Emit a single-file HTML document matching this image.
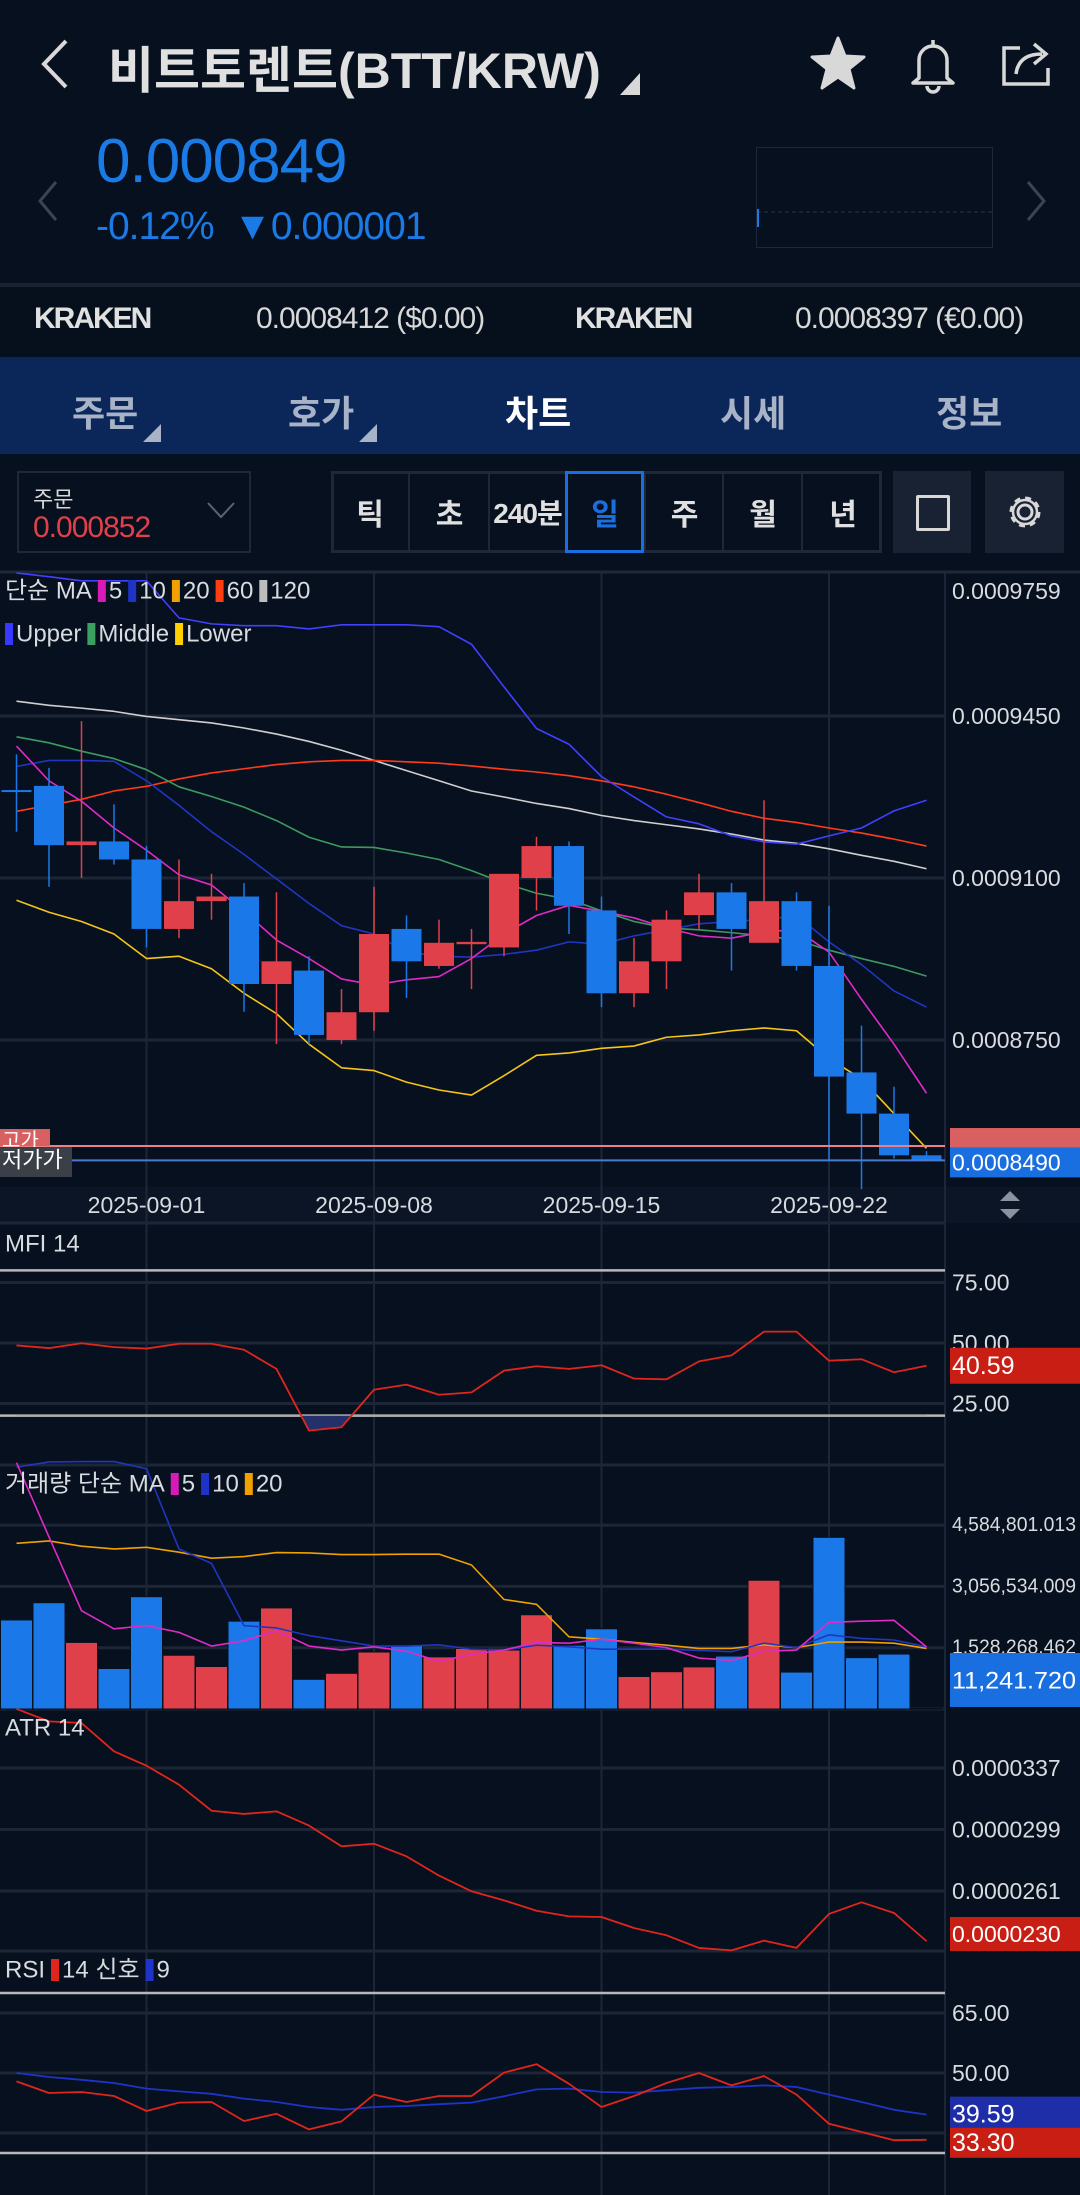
<!DOCTYPE html>
<html lang="ko"><head><meta charset="utf-8"><title>BTT/KRW chart</title>
<style>
*{margin:0;padding:0;box-sizing:border-box}
body{width:1080px;height:2195px;background:#07101e;font-family:"Liberation Sans","Noto Sans CJK KR",sans-serif;color:#d8dbe0;position:relative;overflow:hidden}
.a{position:absolute;white-space:nowrap}
</style></head><body>
<div class="a" style="left:0;top:0;width:1080px;height:284px;background:#07101e"></div>
<svg class="a" style="left:36px;top:38px" width="36" height="52"><polyline points="30,3 8,26 30,49" fill="none" stroke="#d8d8d8" stroke-width="4"/></svg>
<div class="a" style="left:108px;top:31px;font-size:50px;font-weight:bold;color:#e0e0e0;letter-spacing:0px">비트토렌트(BTT/KRW)</div>
<svg class="a" style="left:620px;top:73px" width="20" height="22"><polygon points="20,0 20,22 0,22" fill="#d8d8d8"/></svg>
<svg class="a" style="left:810px;top:36px" width="56" height="54"><polygon points="28,2 35,20 54,21 39,33 44,52 28,41 12,52 17,33 2,21 21,20" fill="#d8d8d8" stroke="#d8d8d8" stroke-width="3" stroke-linejoin="round"/></svg>
<svg class="a" style="left:905px;top:34px" width="56" height="60"><path d="M14 44 V26 a14 14 0 0 1 28 0 V44 l6 5 H8 Z M28 6 v6 M22 52 a6 6 0 0 0 12 0" fill="none" stroke="#d8d8d8" stroke-width="3.5" stroke-linejoin="round"/></svg>
<svg class="a" style="left:1000px;top:36px" width="56" height="56"><path d="M20 12 H4 V48 H48 V32" fill="none" stroke="#d8d8d8" stroke-width="3.5"/><path d="M16 38 C18 22 30 18 42 18 M34 8 L46 18 L34 28" fill="none" stroke="#d8d8d8" stroke-width="3.5"/></svg>
<div class="a" style="left:96px;top:126px;font-size:62px;color:#1a7ae6;letter-spacing:-1px">0.000849</div>
<div class="a" style="left:96px;top:205px;font-size:39px;color:#1a7ae6;letter-spacing:-1px">-0.12% &nbsp;▼0.000001</div>
<svg class="a" style="left:36px;top:180px" width="24" height="42"><polyline points="20,2 4,21 20,40" fill="none" stroke="#3b4454" stroke-width="3"/></svg>
<svg class="a" style="left:1024px;top:180px" width="24" height="42"><polyline points="4,2 20,21 4,40" fill="none" stroke="#3b4454" stroke-width="3"/></svg>
<svg class="a" style="left:756px;top:147px" width="237" height="101"><rect x="0.5" y="0.5" width="236" height="100" fill="none" stroke="#1e2838"/><line x1="1" y1="65" x2="236" y2="65" stroke="#2a3446" stroke-dasharray="4,3"/><line x1="2" y1="62" x2="2" y2="80" stroke="#1a7ae6" stroke-width="2"/></svg>
<div class="a" style="left:0;top:283px;width:1080px;height:4px;background:#1a2230"></div>
<div class="a" style="left:0;top:287px;width:1080px;height:70px;background:#06101d"></div>
<div class="a" style="left:34px;top:302px;font-size:30px;font-weight:bold;color:#e0e0e0;letter-spacing:-2px">KRAKEN</div>
<div class="a" style="left:256px;top:302px;font-size:30px;color:#d8d8d8;letter-spacing:-1px">0.0008412 ($0.00)</div>
<div class="a" style="left:575px;top:302px;font-size:30px;font-weight:bold;color:#e0e0e0;letter-spacing:-2px">KRAKEN</div>
<div class="a" style="left:795px;top:302px;font-size:30px;color:#d8d8d8;letter-spacing:-1px">0.0008397 (€0.00)</div>
<div class="a" style="left:0;top:357px;width:1080px;height:97px;background:#0b2659"></div>
<div class="a" style="left:72px;top:385px;font-size:36px;font-weight:bold;color:#a8b3c8">주문</div>
<div class="a" style="left:288px;top:385px;font-size:36px;font-weight:bold;color:#a8b3c8">호가</div>
<div class="a" style="left:505px;top:385px;font-size:36px;font-weight:bold;color:#ffffff">차트</div>
<div class="a" style="left:720px;top:385px;font-size:36px;font-weight:bold;color:#a8b3c8">시세</div>
<div class="a" style="left:936px;top:385px;font-size:36px;font-weight:bold;color:#a8b3c8">정보</div>
<svg class="a" style="left:143px;top:424px" width="18" height="18"><polygon points="18,0 18,18 0,18" fill="#a8b3c8"/></svg>
<svg class="a" style="left:359px;top:424px" width="18" height="18"><polygon points="18,0 18,18 0,18" fill="#a8b3c8"/></svg>
<div class="a" style="left:17px;top:471px;width:234px;height:82px;border:2px solid #1e2838"></div>
<div class="a" style="left:33px;top:482px;font-size:22px;color:#d8d8d8">주문</div>
<div class="a" style="left:33px;top:511px;font-size:30px;color:#e0404a;letter-spacing:-1px">0.000852</div>
<svg class="a" style="left:206px;top:500px" width="30" height="20"><polyline points="2,3 15,17 28,3" fill="none" stroke="#5a6474" stroke-width="2"/></svg>
<div class="a" style="left:331px;top:471px;width:551px;height:82px;border:3px solid #1e2838"></div>
<div id="intervals"></div>
<div class="a" style="left:893px;top:471px;width:78px;height:82px;background:#182232"></div>
<div class="a" style="left:916px;top:495px;width:34px;height:36px;border:3px solid #d8d8d8;border-radius:2px"></div>
<div class="a" style="left:985px;top:471px;width:79px;height:82px;background:#182232"></div>
<svg class="a" style="left:1005px;top:492px" width="40" height="40"><circle cx="20" cy="20" r="7" fill="none" stroke="#d8d8d8" stroke-width="3"/><circle cx="20" cy="20" r="14" fill="none" stroke="#d8d8d8" stroke-width="3" stroke-dasharray="6,5"/><circle cx="20" cy="20" r="12" fill="none" stroke="#d8d8d8" stroke-width="2.5"/></svg>

<svg id="chart" class="a" style="left:0;top:0" width="1080" height="2195"></svg>

<script>
// ---- data ----
const dates = ["08-28","08-29","08-30","08-31","09-01","09-02","09-03","09-04","09-05","09-06","09-07","09-08","09-09","09-10","09-11","09-12","09-13","09-14","09-15","09-16","09-17","09-18","09-19","09-20","09-21","09-22","09-23","09-24","09-25"];
const dateTicks = ["2025-09-01","2025-09-08","2025-09-15","2025-09-22"];
// prices in units of 1e-7 KRW
const openP  = [9290,9299,9171,9179,9140,8990,9050,9060,8871,8900,8750,8810,8990,8910,8957,8950,9100,9169,9030,8851,8920,9020,9069,8960,9050,8910,8680,8591,8501];
const highP  = [9367,9338,9439,9259,9169,9140,9109,9089,9069,8931,8860,9081,9019,9010,8990,9109,9189,9179,9060,8970,9030,9109,9089,9268,9069,9040,8781,8649,8510];
const lowP   = [9200,9081,9100,9129,8950,8970,9010,8811,8741,8741,8741,8770,8841,8904,8860,8931,9030,8979,8821,8821,8860,8990,8900,8960,8900,8490,8428,8494,8488];
const closeP = [9290,9171,9179,9140,8990,9050,9060,8871,8920,8761,8810,8979,8920,8960,8962,9109,9169,9040,8851,8920,9010,9069,8990,9050,8910,8671,8591,8501,8490];
const ma5    = [9385,9310,9266,9208,9160,9107,9085,9028,8966,8926,8882,8869,8880,8887,8926,8979,9019,9041,9028,9014,8992,8975,8970,8984,8988,8940,8838,8741,8635];
const ma10   = [9341,9354,9354,9352,9310,9257,9200,9151,9098,9045,8997,8979,8940,8931,8929,8935,8944,8962,8957,8975,8988,9001,9006,9010,9019,8962,8913,8856,8821];
const ma60   = [9244,9257,9270,9288,9298,9314,9327,9336,9345,9351,9354,9354,9351,9348,9342,9335,9329,9321,9310,9297,9281,9263,9244,9229,9220,9208,9197,9184,9169];
const ma120  = [9482,9473,9467,9460,9449,9442,9435,9424,9411,9395,9376,9354,9332,9310,9288,9275,9261,9250,9235,9224,9215,9206,9195,9182,9175,9163,9149,9136,9120];
const bbUpper  = [9759,9751,9742,9742,9742,9662,9649,9645,9645,9638,9647,9647,9647,9643,9605,9513,9423,9389,9319,9275,9232,9217,9191,9178,9173,9191,9208,9245,9268];
const bbMiddle = [9405,9392,9374,9358,9334,9297,9276,9253,9224,9188,9167,9166,9154,9140,9116,9089,9067,9054,9029,9006,8992,8988,8982,8975,8966,8944,8926,8909,8888];
const bbLower  = [9052,9026,9006,8979,8926,8931,8904,8851,8807,8741,8690,8684,8659,8642,8631,8673,8717,8722,8732,8737,8756,8761,8770,8776,8770,8710,8666,8591,8516];
const priceTicks = [9759,9450,9100,8750];
const mfi = [49.0,47.9,49.9,48.3,47.7,49.7,49.7,47.2,39.3,13.8,15.2,30.7,32.8,28.6,29.6,38.6,40.4,39.3,40.8,35.3,35.0,42.4,44.9,54.7,54.7,42.7,43.3,37.9,40.59];
const mfiTicks = [75,50,25];
// volume in millions
const volume = [2.22,2.65,1.66,1.01,2.80,1.34,1.06,2.19,2.52,0.74,0.89,1.42,1.59,1.30,1.51,1.47,2.35,1.59,2.00,0.81,0.93,1.05,1.32,3.21,0.92,4.28,1.28,1.37,0.011];
const volMa5  = [6.14,4.29,2.45,2.00,2.08,1.91,1.57,1.70,1.95,1.57,1.47,1.55,1.44,1.19,1.36,1.47,1.66,1.64,1.74,1.64,1.53,1.27,1.21,1.44,1.47,2.16,2.19,2.21,1.55];
const volMa10 = [6.03,6.16,6.17,6.17,5.99,3.99,3.63,2.08,2.02,1.83,1.70,1.57,1.57,1.60,1.49,1.47,1.59,1.55,1.49,1.49,1.49,1.46,1.43,1.64,1.53,1.85,1.76,1.72,1.55];
const volMa20 = [4.13,4.19,4.06,3.99,4.03,3.91,3.76,3.80,3.90,3.89,3.85,3.85,3.86,3.86,3.59,2.73,2.61,1.80,1.74,1.66,1.59,1.51,1.51,1.60,1.53,1.67,1.67,1.64,1.51];
const volTickLabels = ["4,584,801.013","3,056,534.009","1,528,268.462"];
const volTicks = [4.584801,3.056534,1.528268];
const atr = [373.5,365.8,364.8,347.3,338.4,326.7,310.6,308.6,310.2,301.4,288.6,290.2,282.4,270.5,260.8,255.2,248.8,245.3,244.9,238.1,233.6,225.8,224.3,230.3,225.8,246.8,254.0,247.4,230];
const atrTicks = [337,299,261];
const rsi = [47.9,45.0,45.25,44.25,40.5,42.6,42.75,38.0,39.8,35.9,37.9,44.6,42.75,44.25,44.25,50.1,52.2,47.3,41.5,44.25,47.5,50.0,46.9,49.25,44.6,37.3,35.25,33.2,33.3];
const rsiSignal = [50,49,48.3,47.5,46.1,45.4,44.8,43.6,42.75,41.5,40.8,41.5,41.75,42.2,42.6,44.2,45.9,46.1,45.25,45.1,45.7,46.3,46.5,46.9,46.5,44.6,42.75,40.8,39.59];
const rsiTicks = [65,50];
const intervals = ["틱","초","240분","일","주","월","년"];

// ---- interval buttons ----
const ib = document.getElementById('intervals');
const cellX = [331,408,488,565,644,722,801,882];
intervals.forEach((t,i)=>{
  const d=document.createElement('div');
  
  
  d.className='a';
  const sel = t==="일";
  d.style.cssText=`left:${cellX[i]}px;top:471px;width:${cellX[i+1]-cellX[i]}px;height:82px;display:flex;align-items:center;justify-content:center;font-size:${t.length>2?28:30}px;font-weight:bold;letter-spacing:-1px;color:${sel?'#1a6fe0':'#e0e0e0'};border-left:${i?'2px solid #1e2838':'none'};${sel?'border:3px solid #1a6fe0;':''}`;
  d.textContent=t;
  ib.appendChild(d);
});

// ---- axes ----
const NS='http://www.w3.org/2000/svg';
const svg=document.getElementById('chart');
const xOf = i => 16.5 + 32.5*i;
const yMain = v => 878 + (9100 - v)*0.4629;
const yMfi = v => 1343 + (50 - v)*2.42;
const yVol = v => 1709 - v/1.528268*61.3;
const yAtr = v => 1768 + (337 - v)*1.618;
const yRsi = v => 2073 + (50 - v)*4;
function el(tag, attrs, parent){const e=document.createElementNS(NS,tag);for(const k in attrs)e.setAttribute(k,attrs[k]);(parent||svg).appendChild(e);return e;}
function txt(s,x,y,size,fill,anchor,len){const a={x:x,y:y,'font-size':size,fill:fill,'font-family':'Liberation Sans, Noto Sans CJK KR, sans-serif','text-anchor':anchor||'start','dominant-baseline':'central'};if(len){a.textLength=len;a.lengthAdjust='spacingAndGlyphs';}const t=el('text',a);t.textContent=s;return t;}
function poly(arr, yf, color, w){return el('polyline',{points:arr.map((v,i)=>xOf(i)+','+yf(v)).join(' '),fill:'none',stroke:color,'stroke-width':w||1.6,'stroke-linejoin':'round'});}

let g=el('rect',{x:0,y:571,width:1080,height:1624,fill:'#07101e'});


el('line',{x1:0,y1:572,x2:1080,y2:572,stroke:'#1e2838','stroke-width':3});
let db=el('rect',{x:0,y:1187,width:1080,height:36,fill:'#0c1525'});



dateTicks.forEach(d=>{
  const i=dates.indexOf(d.slice(5));
  const x=xOf(i);
  const l=el('line',{x1:x,y1:573,x2:x,y2:2195,stroke:'#1c2637','stroke-width':2});
  
  
  const t=txt(d,x,1205,23,'#d8dbe0','middle');
  
  
});
el('line',{x1:945,y1:573,x2:945,y2:2195,stroke:'#1c2637','stroke-width':2});
[1223,1465,1709,1951].forEach(y=>el('line',{x1:0,y1:y,x2:945,y2:y,stroke:'#1c2637','stroke-width':3}));

// ---- main price chart ----
priceTicks.forEach((v,k)=>{
  const y=yMain(v);
  if(k>0) el('line',{x1:0,y1:y,x2:945,y2:y,stroke:'#1c2637','stroke-width':3});
  const t=txt('0.000'+v,952,Math.max(y,591),23,'#d8dbe0');
  
  
});
const lineSpecs=[[ma120,'#cfcfcf','ma120-line'],[ma60,'#ff3b1a','ma60-line'],[bbUpper,'#4040ff','bb-upper-line'],[bbMiddle,'#3d9a5e','bb-middle-line'],[bbLower,'#f5c518','bb-lower-line'],[ma10,'#2035c0','ma10-line'],[ma5,'#e02ac8','ma5-line']];
lineSpecs.forEach(s=>{const p=poly(s[0],yMain,s[1],1.6);
  
  });
openP.forEach((o,i)=>{
  const c=closeP[i], up=c>o, col=up?'#e0404a':'#1a78e8', x=xOf(i);
  const w=el('line',{x1:x,y1:yMain(highP[i]),x2:x,y2:yMain(lowP[i]),stroke:col,'stroke-width':1.5});
  
  
  const top=yMain(Math.max(o,c)), bot=yMain(Math.min(o,c));
  const b=el('rect',{x:x-15,y:top,width:30,height:Math.max(bot-top,2),fill:col});
  
  
});
const hiV=8521, loV=closeP[closeP.length-1];
el('line',{x1:0,y1:yMain(hiV),x2:945,y2:yMain(hiV),stroke:'#f08080','stroke-width':2});
el('line',{x1:0,y1:yMain(loV),x2:945,y2:yMain(loV),stroke:'#4a7ad0','stroke-width':2});
let hl=el('rect',{x:0,y:yMain(hiV)-17,width:50,height:17,fill:'#d86060'});


txt('고가',2,yMain(hiV)-5,20,'#ffffff');
let ll=el('rect',{x:0,y:yMain(hiV)+1,width:72,height:30,fill:'#3a3f48'});


txt('저가가',2,yMain(hiV)+14,22,'#ffffff');
el('rect',{x:950,y:yMain(hiV)-18,width:130,height:20,fill:'#d86060'});
let pl=el('rect',{x:950,y:yMain(loV)-13,width:130,height:30,fill:'#1a6fe0'});


txt('0.000'+loV,952,yMain(loV)+2,23,'#ffffff');
function legend(items,x,y){items.forEach(it=>{if(it[1]){el('rect',{x:x,y:y-11,width:8,height:22,fill:it[1]});x+=11;}const t=txt(it[0],x,y,24,'#d8dbe0');x+=t.getComputedTextLength()+6;});}
legend([['단순 MA',null],['5','#d81bb8'],['10','#1e34c8'],['20','#f0a000'],['60','#ff3d10'],['120','#bdbdbd']],5,591);
legend([['Upper','#3838ff'],['Middle','#3aa060'],['Lower','#ffd000']],5,634);
el('polygon',{points:'1000,1201 1020,1201 1010,1191',fill:'#8a92a0'});
el('polygon',{points:'1000,1209 1020,1209 1010,1219',fill:'#8a92a0'});

// ---- MFI ----
mfiTicks.forEach(v=>{const y=yMfi(v);el('line',{x1:0,y1:y,x2:945,y2:y,stroke:'#1c2637','stroke-width':3});
  const t=txt(v.toFixed(2),952,y,23,'#d8dbe0');
  
  });
[80,20].forEach(v=>el('line',{x1:0,y1:yMfi(v),x2:945,y2:yMfi(v),stroke:'#b8b8b8','stroke-width':2.5}));
const cp=el('clipPath',{id:'mfiLow'});
el('rect',{x:0,y:yMfi(20),width:945,height:60},cp);
el('polygon',{points:mfi.map((v,i)=>xOf(i)+','+yMfi(v)).join(' ')+` ${xOf(mfi.length-1)},${yMfi(20)} ${xOf(0)},${yMfi(20)}`,fill:'#23306a','clip-path':'url(#mfiLow)'});
let mp=poly(mfi,yMfi,'#e0261c',1.8);


txt('MFI 14',5,1244,24,'#d8dbe0');
el('rect',{x:950,y:yMfi(mfi[mfi.length-1])-18,width:130,height:36,fill:'#c81e14'});
txt(mfi[mfi.length-1].toFixed(2),952,yMfi(mfi[mfi.length-1]),25,'#ffffff');

// ---- Volume ----
volTicks.forEach((v,k)=>{const y=yVol(v);el('line',{x1:0,y1:y,x2:945,y2:y,stroke:'#1c2637','stroke-width':3});
  const t=txt(volTickLabels[k],952,y,20,'#d8dbe0',null,124);
  
  });
volume.forEach((v,i)=>{const up=closeP[i]>openP[i];
  const r=el('rect',{x:xOf(i)-16,y:yVol(v),width:32,height:yVol(0)-yVol(v),fill:up?'#e0404a':'#1a78e8',stroke:'#07101e','stroke-width':1});
  
  });
[[volMa20,'#f0a000','volume-ma20-line'],[volMa10,'#2035c0','volume-ma10-line'],[volMa5,'#e02ac8','volume-ma5-line']].forEach(s=>{const p=poly(s[0],yVol,s[1],1.6);
  
  });
legend([['거래량 단순 MA',null],['5','#d81bb8'],['10','#1e34c8'],['20','#f0a000']],5,1484);
el('rect',{x:950,y:1653,width:130,height:54,fill:'#1a6fe0'});
txt('11,241.720',952,1681,24,'#ffffff',null,124);

// ---- ATR ----
atrTicks.forEach(v=>{const y=yAtr(v);el('line',{x1:0,y1:y,x2:945,y2:y,stroke:'#1c2637','stroke-width':3});
  const t=txt('0.0000'+v,952,y,23,'#d8dbe0');
  
  });
let ap=poly(atr,yAtr,'#e0261c',1.8);


txt('ATR 14',5,1728,24,'#d8dbe0');
el('rect',{x:950,y:1917,width:130,height:34,fill:'#c81e14'});
txt('0.0000'+Math.round(atr[atr.length-1]),952,1934,23,'#ffffff');

// ---- RSI ----
rsiTicks.forEach(v=>{const y=yRsi(v);el('line',{x1:0,y1:y,x2:945,y2:y,stroke:'#1c2637','stroke-width':3});
  const t=txt(v.toFixed(2),952,y,23,'#d8dbe0');
  
  });
el('line',{x1:0,y1:yRsi(35),x2:945,y2:yRsi(35),stroke:'#1c2637','stroke-width':3});
[70,30].forEach(v=>el('line',{x1:0,y1:yRsi(v),x2:945,y2:yRsi(v),stroke:'#b8b8b8','stroke-width':2.5}));
let sp=poly(rsiSignal,yRsi,'#1e34c8',1.8);


let rp=poly(rsi,yRsi,'#e0261c',1.8);


legend([['RSI',null],['14 신호','#e0261c'],['9','#1e34c8']],5,1970);
const rl=rsi[rsi.length-1], sl=rsiSignal[rsiSignal.length-1];
el('rect',{x:950,y:yRsi(sl)-18,width:130,height:36,fill:'#1e2ea8'});
txt(sl.toFixed(2),952,yRsi(sl),25,'#ffffff');
el('rect',{x:950,y:yRsi(rl)-12,width:130,height:30,fill:'#c81e14'});
txt(rl.toFixed(2),952,yRsi(rl)+3,25,'#ffffff');
</script>
</body></html>
